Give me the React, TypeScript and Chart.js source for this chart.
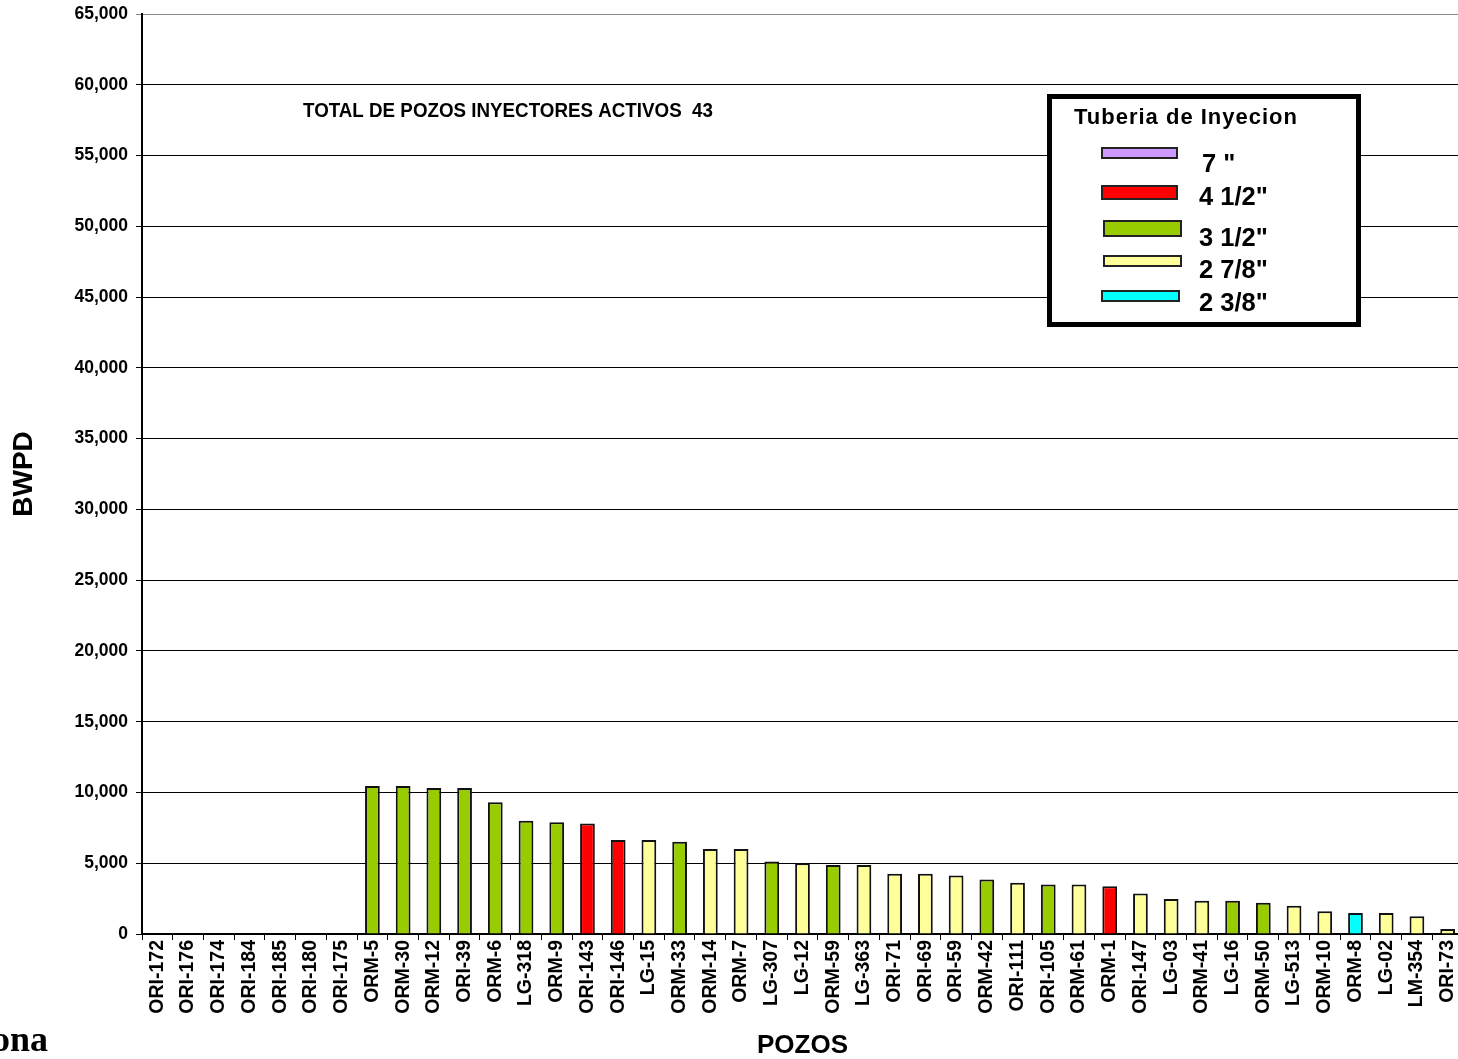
import React, { useEffect, useRef } from "react";
import { Chart, registerables } from "chart.js";

Chart.register(...registerables);

const wells = [
  "ORI-172", "ORI-176", "ORI-174", "ORI-184", "ORI-185", "ORI-180", "ORI-175",
  "ORM-5", "ORM-30", "ORM-12", "ORI-39", "ORM-6", "LG-318", "ORM-9", "ORI-143",
  "ORI-146", "LG-15", "ORM-33", "ORM-14", "ORM-7", "LG-307", "LG-12", "ORM-59",
  "LG-363", "ORI-71", "ORI-69", "ORI-59", "ORM-42", "ORI-111", "ORI-105", "ORM-61",
  "ORM-1", "ORI-147", "LG-03", "ORM-41", "LG-16", "ORM-50", "LG-513", "ORM-10",
  "ORM-8", "LG-02", "LM-354", "ORI-73",
];

const bwpd: (number | null)[] = [
  null, null, null, null, null, null, null,
  10450, 10450, 10320, 10320, 9300, 8000, 7900, 7800,
  6650, 6650, 6520, 6000, 6000, 5120, 5000, 4870,
  4870, 4250, 4250, 4130, 3850, 3620, 3500, 3500,
  3380, 2870, 2470, 2350, 2350, 2200, 2000, 1600,
  1480, 1480, 1250, 350,
];

// tubing size per well (key into legend)
const tubing: string[] = [
  "", "", "", "", "", "", "",
  "3 1/2", "3 1/2", "3 1/2", "3 1/2", "3 1/2", "3 1/2", "3 1/2", "4 1/2",
  "4 1/2", "2 7/8", "3 1/2", "2 7/8", "2 7/8", "3 1/2", "2 7/8", "3 1/2",
  "2 7/8", "2 7/8", "2 7/8", "2 7/8", "3 1/2", "2 7/8", "3 1/2", "2 7/8",
  "4 1/2", "2 7/8", "2 7/8", "2 7/8", "3 1/2", "3 1/2", "2 7/8", "2 7/8",
  "2 3/8", "2 7/8", "2 7/8", "2 7/8",
];

const legendKeys = ["7", "4 1/2", "3 1/2", "2 7/8", "2 3/8"];
const legendLabels = ['7 "', '4 1/2"', '3 1/2"', '2 7/8"', '2 3/8"'];
const legendColors = ["#CC99FF", "#FF0000", "#99CC00", "#FFFF99", "#00FFFF"];

const yMax = 65000;
const yStep = 5000;

const legendTitle = "Tuberia de Inyecion";
const noteText = "TOTAL DE POZOS INYECTORES ACTIVOS  43";
const xTitle = "POZOS";
const yTitle = "BWPD";
const cornerText = "ona";

const SANS = '"Liberation Sans", Arial, sans-serif';

export default function App() {
  const ref = useRef<HTMLCanvasElement | null>(null);

  useEffect(() => {
    if (!ref.current) return;
    const colors = tubing.map((t) => {
      const i = legendKeys.indexOf(t);
      return i >= 0 ? legendColors[i] : "#ffffff";
    });

    const overlay = {
      id: "overlay",
      afterDraw(chart: any) {
        const ctx = chart.ctx as any;
        ctx.save();
        // note text
        ctx.fillStyle = "#000";
        ctx.textAlign = "left";
        ctx.textBaseline = "alphabetic";
        ctx.font = `bold 19.5px ${SANS}`;
        ctx.fillText(noteText, 303, 117, 410);

        // legend box
        ctx.fillStyle = "#fff";
        ctx.fillRect(1049, 96, 310, 229);
        ctx.strokeStyle = "#000";
        ctx.lineWidth = 5;
        ctx.strokeRect(1049.5, 96.5, 309, 228);
        ctx.fillStyle = "#000";
        ctx.font = `bold 22px ${SANS}`;
        ctx.letterSpacing = "1px";
        ctx.fillText(legendTitle, 1074, 124);
        ctx.letterSpacing = "0px";

        const swTop = [148, 186, 221, 256, 291];
        const swH = [10, 13, 15, 10, 10];
        const swX = [1102, 1102, 1104, 1104, 1102];
        const swW = [75, 75, 77, 77, 77];
        const lblY = [172, 205, 246, 278, 311];
        legendLabels.forEach((lab: string, i: number) => {
          ctx.fillStyle = legendColors[i];
          ctx.fillRect(swX[i], swTop[i], swW[i], swH[i]);
          ctx.strokeStyle = "#222";
          ctx.lineWidth = 2;
          ctx.strokeRect(swX[i], swTop[i], swW[i], swH[i]);
          ctx.fillStyle = "#000";
          ctx.font = `bold 25.5px ${SANS}`;
          ctx.fillText(lab, i === 0 ? 1202 : 1199, lblY[i]);
        });

        // corner text
        ctx.font = 'bold 36px "Liberation Serif", "Times New Roman", serif';
        ctx.textAlign = "right";
        ctx.fillText(cornerText, 48, 1051);
        ctx.restore();
      },
    };

    const chart = new Chart(ref.current, {
      type: "bar",
      data: {
        labels: wells,
        datasets: [
          {
            data: bwpd,
            backgroundColor: colors,
            borderColor: "#111",
            borderWidth: 2,
            barPercentage: 0.48,
            categoryPercentage: 1,
          },
        ],
      },
      plugins: [overlay],
      options: {
        responsive: false,
        animation: false,
        devicePixelRatio: 1,
        layout: { padding: { top: 14, right: 3, left: 0, bottom: 0 } },
        plugins: {
          legend: { display: false },
          tooltip: { enabled: false },
        },
        scales: {
          x: {
            offset: true,
            grid: {
              display: true,
              offset: true,
              drawOnChartArea: false,
              drawTicks: true,
              tickLength: 6,
              color: "#000",
            },
            border: { display: true, color: "#000", width: 2 },
            ticks: {
              autoSkip: false,
              minRotation: 90,
              maxRotation: 90,
              padding: 0,
              color: "#000",
              font: { family: SANS, size: 19.5, weight: "bold" },
            },
            title: {
              display: true,
              text: xTitle,
              color: "#000",
              font: { family: SANS, size: 26, weight: "bold", lineHeight: 1 },
              padding: { top: 0, bottom: 0 },
            },
            afterFit(scale: any) {
              scale.height = 125;
              scale.paddingLeft = 0;
              scale.paddingRight = 0;
            },
          },
          y: {
            min: 0,
            max: yMax,
            ticks: {
              stepSize: yStep,
              padding: 8,
              color: "#000",
              font: { family: SANS, size: 17.5, weight: "bold" },
              callback: (v: any) => Number(v).toLocaleString("en-US"),
            },
            grid: {
              color: (c: any) => (c.tick && c.tick.value === yMax ? "#888" : "#000"),
              lineWidth: 1,
              drawTicks: true,
              tickLength: 6,
            },
            border: { display: true, color: "#000", width: 2 },
            title: {
              display: true,
              text: yTitle,
              color: "#000",
              font: { family: SANS, size: 28, weight: "bold", lineHeight: 1 },
              padding: { top: 10, bottom: 0 },
            },
            afterFit(scale: any) {
              scale.width = 142;
              scale.paddingTop = 0;
              scale.paddingBottom = 0;
            },
          },
        },
      } as any,
    });
    return () => chart.destroy();
  }, []);

  return (
    <div
      style={{
        position: "absolute",
        left: 0,
        top: 0,
        width: 1458,
        height: 1059,
        overflow: "hidden",
        background: "#fff",
      }}
    >
      <canvas ref={ref} width={1466} height={1059} style={{ width: 1466, height: 1059, display: "block" }} />
    </div>
  );
}
